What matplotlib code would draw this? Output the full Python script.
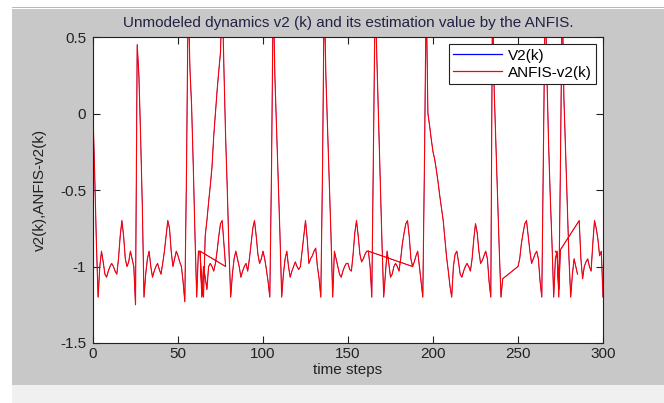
import numpy as np
import matplotlib
matplotlib.use("Agg")
import matplotlib.pyplot as plt
from matplotlib.patches import Rectangle

plt.rcParams['font.family'] = ['Liberation Sans', 'DejaVu Sans']

# ANFIS trace pieces: first time step, then one value per step.
# Pieces that are "joined" continue the previous one (this gives the
# straight back/forward lines seen in the picture).
seg1_start = 0
seg1_vals = [0.0, -0.4, -0.85, -1.2, -1.0, -0.9, -0.97, -1.05, -1.07, -1.03,
             -1.0, -0.98, -1.0, -1.03, -1.05, -0.95, -0.8, -0.7, -0.8, -0.95,
             -1.0, -0.97, -0.9, -0.95, -1.0, -1.25, 0.45, 0.25, -0.15, -0.6,
             -1.2, -1.05, -0.95, -0.9, -1.0, -1.07, -1.03, -1.0, -0.98, -1.02,
             -1.05, -0.98, -0.9, -0.8, -0.7, -0.75, -0.9, -1.0, -0.95, -0.9,
             -0.93, -0.97, -1.0, -1.1, -1.23, -0.38, 0.8, 0.3, 0.05, -0.35,
             -0.8, -1.2, -0.9, -0.9, -1.2, -1.0, -1.07, -1.15, -1.0, -0.98,
             -1.0, -1.03, -0.98, -0.9, -0.8, -0.72, -0.7, -0.85, -1.0]

seg2_start = 63
seg2_vals = [-0.9, -1.15, -1.2, -0.8, -0.7, -0.58, -0.47, -0.35, -0.15, 0.0,
             0.15, 0.28, 0.4, 0.8, 0.3, -0.15, -0.5, -0.9, -1.2, -1.05,
             -0.95, -0.9, -0.95, -1.0, -1.07, -1.03, -1.0, -0.98, -1.03, -0.95,
             -0.85, -0.75, -0.7, -0.8, -0.92, -0.98, -0.95, -0.9, -0.95, -1.02,
             -1.1, -1.2, -0.38, 0.8, 0.24, -0.1, -0.45, -0.8, -1.2, -1.05,
             -0.95, -0.9, -1.0, -1.07, -1.03, -1.0, -0.97, -1.0, -1.02, -1.0,
             -0.9, -0.8, -0.7, -0.82, -0.98, -0.95, -0.93, -0.9, -0.88, -1.0,
             -1.08, -1.2, -0.38, 0.8, 0.24, -0.1, -0.45, -0.8, -1.2, -0.9,
             -0.95, -1.0, -1.05, -1.07, -1.03, -1.0, -0.98, -0.98, -1.02, -1.03,
             -0.92, -0.78, -0.7, -0.8, -0.92, -0.97, -0.95, -0.92, -0.9, -0.9]

seg3_start = 188
seg3_vals = [-1.0, -0.97, -0.93, -0.9, -1.0, -1.1, -1.2, -0.3, 0.8, 0.0,
             -0.08, -0.17, -0.25, -0.3, -0.37, -0.45, -0.54, -0.62, -0.7, -0.82,
             -0.94, -1.03, -1.13, -1.2, -1.0, -0.92, -0.9, -0.97, -1.05, -1.07,
             -1.03, -1.0, -0.98, -1.0, -1.03, -0.95, -0.82, -0.72, -0.78, -0.9,
             -0.98, -0.96, -0.93, -0.9, -0.95, -1.1, -1.2, 0.8, 0.15, -0.2,
             -0.55, -0.9, -1.2, -1.08]

seg4_start = 250
seg4_vals = [-1.0, -0.95, -0.85, -0.78, -0.72, -0.7, -0.8, -0.9, -0.98, -0.95,
             -0.92, -0.9, -0.95, -1.1, -1.2, -0.2, 0.8, 0.25, -0.2, -0.55,
             -0.85, -1.2, -0.95, -0.9, -1.15, -0.89]

seg5_start = 286
seg5_vals = [-0.7, -0.95, -1.08, -1.0, -0.97, -0.95, -1.0, -1.03, -0.85, -0.7,
             -0.75, -0.82, -0.93, -0.9, -1.2]

seg6_start = 162
seg6_vals = [-0.9, -1.0, -1.2, -0.2, 0.8, 0.35, -0.05, -0.45, -0.85, -1.2,
             -1.05, -0.9, -0.98, -1.07, -1.05, -1.0, -0.98, -1.0, -1.03, -0.95,
             -0.85, -0.78, -0.72, -0.7, -0.8, -0.95, -1.0]

seg7_start = 272
seg7_vals = [-0.9, -0.92, -1.2, -0.3, 0.8, 0.1, -0.25, -0.6, -0.95, -1.2,
             -1.05, -0.95, -1.0, -1.05]

segments = [
    (seg1_start, seg1_vals, True),
    (seg2_start, seg2_vals, True),
    (seg3_start, seg3_vals, True),
    (seg4_start, seg4_vals, True),
    (seg5_start, seg5_vals, True),
    (seg6_start, seg6_vals, False),
    (seg7_start, seg7_vals, False),
]

x_ticks = [0, 50, 100, 150, 200, 250, 300]
y_ticks = [-1.5, -1, -0.5, 0, 0.5]
y_tick_labels = ['-1.5', '-1', '-0.5', '0', '0.5']

xs, ys = [], []
for start, vals, joined in segments:
    if xs and not joined:
        xs.append(np.nan)
        ys.append(np.nan)
    xs.extend(range(start, start + len(vals)))
    ys.extend(vals)

W, H = 664, 403
fig = plt.figure(figsize=(W / 100, H / 100), dpi=100, facecolor='white')

# MATLAB window background
fig.add_artist(Rectangle((12 / W, 18 / H), 1 - 12 / W, (385 - 9) / H,
                         transform=fig.transFigure, facecolor='#c8c8c8',
                         edgecolor='none', zorder=0))
fig.add_artist(Rectangle((12 / W, 0), 1 - 12 / W, 18 / H,
                         transform=fig.transFigure, facecolor='#f0f0f0',
                         edgecolor='none', zorder=0))
fig.add_artist(Rectangle((12 / W, (H - 8) / H), 1 - 12 / W, 1 / H,
                         transform=fig.transFigure, facecolor='#b8b8b8',
                         edgecolor='none', zorder=0))

ax = fig.add_axes([93 / W, (H - 343) / H, 510 / W, 306 / H])
ax.set_facecolor('white')

ax.plot(xs, ys, color='#0000ff', lw=0.4, label='V2(k)')
ax.plot(xs, ys, color='#ff0000', lw=0.8, label='ANFIS-v2(k)')

ax.set_xlim(0, 300)
ax.set_ylim(-1.5, 0.5)
ax.set_xticks(x_ticks)
ax.set_yticks(y_ticks)
ax.set_yticklabels(y_tick_labels)
ax.tick_params(direction='in', top=True, right=True, length=5, width=0.8,
               labelsize=11, colors='#222222', pad=3)
ax.tick_params(axis='y', pad=5)
for sp in ax.spines.values():
    sp.set_color('#222222')
    sp.set_linewidth(0.8)

ax.set_title('Unmodeled dynamics v2 (k) and its estimation value by the ANFIS.',
             fontsize=11, color='#222244', pad=7)
ax.set_xlabel('time steps', fontsize=11, color='#222222', labelpad=1)
ax.set_ylabel('v2(k),ANFIS-v2(k)', fontsize=11, color='#222222')
ax.yaxis.set_label_coords(-0.09, 0.5)

leg = ax.legend(loc='upper right', bbox_to_anchor=(1 - 7 / 510, 1 - 7 / 306),
                borderaxespad=0, fancybox=False, framealpha=1, fontsize=11,
                handlelength=3.2, handletextpad=0.35, borderpad=0.3,
                labelspacing=0.2)
leg.get_frame().set_edgecolor('#222222')
leg.get_frame().set_linewidth(0.8)
for line in leg.get_lines():
    line.set_linewidth(0.9)

fig.savefig('out.png', dpi=100, facecolor=fig.get_facecolor())
